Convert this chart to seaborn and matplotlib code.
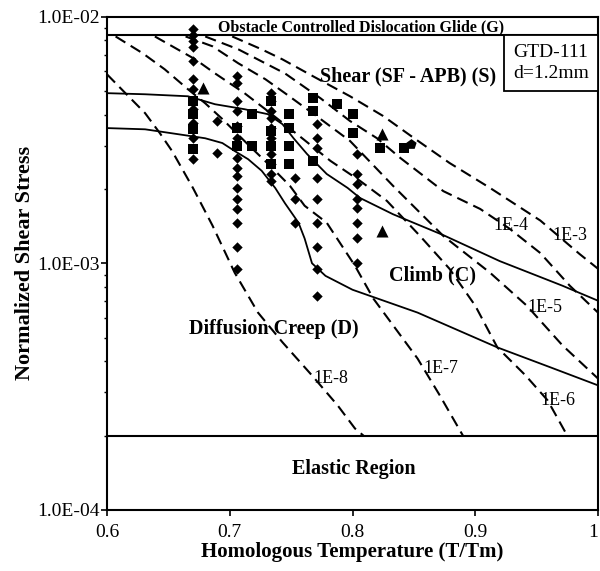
import numpy as np
import pandas as pd
import matplotlib
matplotlib.use("Agg")
import matplotlib.pyplot as plt
import matplotlib.ticker as mticker
import seaborn as sns

sns.set_theme(style="ticks")
plt.rcParams["font.family"] = ["Liberation Serif", "DejaVu Serif"]
plt.rcParams["text.color"] = "black"
plt.rcParams["axes.labelcolor"] = "black"
plt.rcParams["xtick.color"] = "black"
plt.rcParams["ytick.color"] = "black"

# -----------------------------
# mechanism boundaries
# -----------------------------
glide_stress = 8.4e-3
elastic_stress = 2.0e-4

shear_climb_T = [0.600, 0.631, 0.666, 0.688, 0.712, 0.731, 0.743, 0.752, 0.763, 0.779,
                 0.796, 0.806, 0.833, 0.874, 0.920, 0.971, 1.000]
shear_climb_s = [4.89e-3, 4.84e-3, 4.75e-3, 4.41e-3, 4.21e-3, 4.02e-3, 3.66e-3, 3.21e-3,
                 2.77e-3, 2.30e-3, 2.02e-3, 1.84e-3, 1.58e-3, 1.30e-3, 1.02e-3, 8.11e-4, 7.05e-4]

climb_diff_T = [0.600, 0.631, 0.664, 0.680, 0.694, 0.704, 0.715, 0.726, 0.737, 0.745,
                0.756, 0.761, 0.767, 0.778, 0.800, 0.853, 0.918, 0.961, 1.000]
climb_diff_s = [3.53e-3, 3.49e-3, 3.30e-3, 3.21e-3, 3.07e-3, 2.85e-3, 2.64e-3, 2.37e-3,
                2.02e-3, 1.75e-3, 1.46e-3, 1.26e-3, 1.00e-3, 8.89e-4, 7.81e-4, 6.31e-4,
                4.56e-4, 3.79e-4, 3.20e-4]

# -----------------------------
# constant strain-rate contours
# -----------------------------
rate_1e3_T = [0.702, 0.726, 0.743, 0.768, 0.798, 0.825, 0.848, 0.879, 0.912, 0.953, 0.985, 1.000]
rate_1e3_s = [8.3e-3, 7.36e-3, 6.70e-3, 5.72e-3, 4.75e-3, 3.95e-3, 3.27e-3, 2.55e-3,
              2.02e-3, 1.49e-3, 1.09e-3, 9.5e-4]

rate_1e4_T = [0.680, 0.707, 0.729, 0.745, 0.774, 0.798, 0.820, 0.839, 0.874, 0.904,
              0.928, 0.953, 0.977, 1.000]
rate_1e4_s = [8.3e-3, 7.36e-3, 6.46e-3, 5.88e-3, 4.66e-3, 3.77e-3, 3.21e-3, 2.67e-3,
              1.96e-3, 1.66e-3, 1.38e-3, 1.10e-3, 8.11e-4, 6.31e-4]

rate_1e5_T = [0.664, 0.686, 0.707, 0.729, 0.745, 0.774, 0.798, 0.833, 0.874, 0.912,
              0.942, 0.971, 1.000]
rate_1e5_s = [8.3e-3, 7.57e-3, 6.46e-3, 5.57e-3, 4.89e-3, 3.84e-3, 3.13e-3, 2.06e-3,
              1.29e-3, 9.16e-4, 6.73e-4, 4.65e-4, 3.41e-4]

rate_1e6_T = [0.639, 0.672, 0.688, 0.712, 0.729, 0.757, 0.782, 0.806, 0.828, 0.855,
              0.879, 0.900, 0.918, 0.941, 0.959, 0.975]
rate_1e6_s = [8.3e-3, 6.70e-3, 5.88e-3, 4.89e-3, 4.21e-3, 3.27e-3, 2.60e-3, 2.16e-3,
              1.79e-3, 1.29e-3, 9.50e-4, 6.73e-4, 4.56e-4, 3.51e-4, 2.78e-4, 2.0e-4]

rate_1e7_T = [0.607, 0.629, 0.647, 0.666, 0.680, 0.694, 0.716, 0.733, 0.749, 0.761,
              0.779, 0.802, 0.817, 0.853, 0.871, 0.890]
rate_1e7_s = [8.3e-3, 7.10e-3, 6.11e-3, 5.07e-3, 4.45e-3, 3.84e-3, 2.99e-3, 2.48e-3,
              2.06e-3, 1.71e-3, 1.46e-3, 9.77e-4, 7.19e-4, 4.11e-4, 2.92e-4, 2.0e-4]

rate_1e8_T = [0.600, 0.615, 0.631, 0.643, 0.653, 0.670, 0.686, 0.704, 0.723, 0.743,
              0.767, 0.788, 0.802, 0.809]
rate_1e8_s = [5.83e-3, 4.89e-3, 4.06e-3, 3.37e-3, 2.85e-3, 2.02e-3, 1.42e-3, 9.16e-4,
              6.31e-4, 4.78e-4, 3.51e-4, 2.65e-4, 2.14e-4, 2.0e-4]

rate_names = ["1E-3", "1E-4", "1E-5", "1E-6", "1E-7", "1E-8"]
rate_T = [rate_1e3_T, rate_1e4_T, rate_1e5_T, rate_1e6_T, rate_1e7_T, rate_1e8_T]
rate_s = [rate_1e3_s, rate_1e4_s, rate_1e5_s, rate_1e6_s, rate_1e7_s, rate_1e8_s]
rate_label_T = [0.977, 0.929, 0.957, 0.967, 0.872, 0.782]
rate_label_s = [1.29e-3, 1.42e-3, 6.61e-4, 2.78e-4, 3.75e-4, 3.41e-4]

# -----------------------------
# test data
# -----------------------------
diamond_cols = {
    0.670: [8.86e-3, 8.38e-3, 7.92e-3, 7.50e-3, 6.58e-3, 5.57e-3, 5.07e-3, 4.21e-3, 3.70e-3, 3.21e-3, 2.64e-3],
    0.690: [3.77e-3, 2.79e-3],
    0.706: [5.72e-3, 5.36e-3, 4.54e-3, 4.13e-3, 3.60e-3, 3.21e-3, 2.67e-3, 2.43e-3, 2.26e-3, 2.02e-3,
            1.82e-3, 1.66e-3, 1.46e-3, 1.16e-3, 9.50e-4],
    0.734: [4.89e-3, 4.54e-3, 4.13e-3, 3.88e-3, 3.53e-3, 3.21e-3, 2.77e-3, 2.53e-3, 2.30e-3, 2.16e-3],
    0.753: [2.22e-3, 1.82e-3, 1.46e-3],
    0.771: [3.66e-3, 3.21e-3, 2.93e-3, 2.22e-3, 1.82e-3, 1.46e-3, 1.16e-3, 9.50e-4, 7.39e-4],
    0.804: [2.77e-3, 2.30e-3, 2.10e-3, 1.82e-3, 1.67e-3, 1.46e-3, 1.26e-3, 1.00e-3],
}
square_cols = {
    0.670: [4.54e-3, 4.02e-3, 3.49e-3, 2.90e-3],
    0.706: [3.53e-3, 2.99e-3],
    0.718: [4.02e-3, 2.99e-3],
    0.734: [4.54e-3, 3.43e-3, 2.99e-3, 2.53e-3],
    0.748: [4.02e-3, 3.53e-3, 2.99e-3, 2.53e-3],
    0.768: [4.66e-3, 4.13e-3, 2.60e-3],
    0.787: [4.41e-3],
    0.800: [4.02e-3, 3.37e-3],
    0.822: [2.93e-3],
    0.842: [2.93e-3],
}
pentagon_T = [0.848]
pentagon_s = [3.04e-3]
triangle_T = [0.678, 0.824, 0.824]
triangle_s = [5.12e-3, 3.34e-3, 1.35e-3]

# -----------------------------
# tidy frames
# -----------------------------
contours = pd.concat(
    [pd.DataFrame({"T": t, "stress": s, "rate": n}) for n, t, s in zip(rate_names, rate_T, rate_s)],
    ignore_index=True)
bounds = pd.concat([
    pd.DataFrame({"T": shear_climb_T, "stress": shear_climb_s, "line": "shear-climb"}),
    pd.DataFrame({"T": climb_diff_T, "stress": climb_diff_s, "line": "climb-diffusion"}),
], ignore_index=True)
diamonds = pd.DataFrame([(t, v) for t, vals in diamond_cols.items() for v in vals], columns=["T", "stress"])
squares = pd.DataFrame([(t, v) for t, vals in square_cols.items() for v in vals], columns=["T", "stress"])

# -----------------------------
# plot
# -----------------------------
fig = plt.figure(figsize=(6.0, 5.71), dpi=100)
ax = fig.add_axes([107 / 600, 61 / 571, 491 / 600, 493.5 / 571])
ax.set_yscale("log")

sns.lineplot(data=contours, x="T", y="stress", units="rate", estimator=None, sort=False,
             color="black", lw=1.5, ls=(0, (5.5, 3)), ax=ax, legend=False)
sns.lineplot(data=bounds, x="T", y="stress", units="line", estimator=None, sort=False,
             color="black", lw=1.3, ax=ax, legend=False)
ax.axhline(glide_stress, color="black", lw=1.5)
ax.axhline(elastic_stress, color="black", lw=1.5)

sns.scatterplot(data=diamonds, x="T", y="stress", marker="D", s=28, color="black",
                edgecolor="black", linewidth=0, ax=ax, zorder=5)
sns.scatterplot(data=squares, x="T", y="stress", marker="s", s=42, color="black",
                edgecolor="black", linewidth=0, ax=ax, zorder=5)
sns.scatterplot(x=pentagon_T, y=pentagon_s, marker="p", s=60, color="black",
                edgecolor="black", linewidth=0, ax=ax, zorder=5)
sns.scatterplot(x=triangle_T, y=triangle_s, marker="^", s=75, color="black",
                edgecolor="black", linewidth=0, ax=ax, zorder=5)

# region labels
bold = dict(fontweight="bold", ha="center", va="center", color="black")
ax.text(0.807, 9.07e-3, "Obstacle Controlled Dislocation Glide (G)", fontsize=11.5, **bold)
ax.text(0.845, 5.72e-3, "Shear (SF - APB) (S)", fontsize=14.5, **bold)
ax.text(0.865, 8.91e-4, "Climb (C)", fontsize=14.5, **bold)
ax.text(0.736, 5.43e-4, "Diffusion Creep (D)", fontsize=14.5, **bold)
ax.text(0.801, 1.47e-4, "Elastic Region", fontsize=14.5, **bold)

for name, lt, ls_ in zip(rate_names, rate_label_T, rate_label_s):
    ax.text(lt, ls_, name, fontsize=13, ha="center", va="center", color="black")

ax.text(0.904, 0.906, "GTD-111\nd=1.2mm", transform=ax.transAxes, fontsize=14,
        ha="center", va="center", linespacing=1.35, color="black",
        bbox=dict(boxstyle="square,pad=0.45", fc="white", ec="black", lw=1.3))

# axes
ax.set_xlim(0.6, 1.0)
ax.set_ylim(1e-4, 1e-2)
ax.set_xticks([0.6, 0.7, 0.8, 0.9, 1.0])
ax.xaxis.set_major_formatter(mticker.FuncFormatter(lambda v, p: f"{v:g}"))
ax.yaxis.set_major_locator(mticker.LogLocator(base=10, numticks=5))
ax.yaxis.set_minor_locator(mticker.LogLocator(base=10, subs=np.arange(2, 10), numticks=20))
ax.yaxis.set_minor_formatter(mticker.NullFormatter())
ax.yaxis.set_major_formatter(mticker.FuncFormatter(lambda v, p: f"{v:.1E}"))
ax.tick_params(axis="both", which="major", direction="out", length=4, width=1.2,
               labelsize=14, colors="black")
ax.tick_params(axis="y", which="major", pad=1.5)
ax.tick_params(axis="x", which="major", pad=6)
ax.tick_params(axis="y", which="minor", direction="out", length=2.5, width=1.0)
for sp in ax.spines.values():
    sp.set_visible(True)
    sp.set_color("black")
    sp.set_linewidth(1.5)

ax.set_xlabel("Homologous Temperature (T/Tm)", fontsize=15, fontweight="bold", labelpad=1)
ax.set_ylabel("Normalized Shear Stress", fontsize=16, fontweight="bold", labelpad=1)

fig.canvas.draw()
ax.get_xticklabels()[-1].set_horizontalalignment("right")

fig.savefig("out.png", dpi=100)
